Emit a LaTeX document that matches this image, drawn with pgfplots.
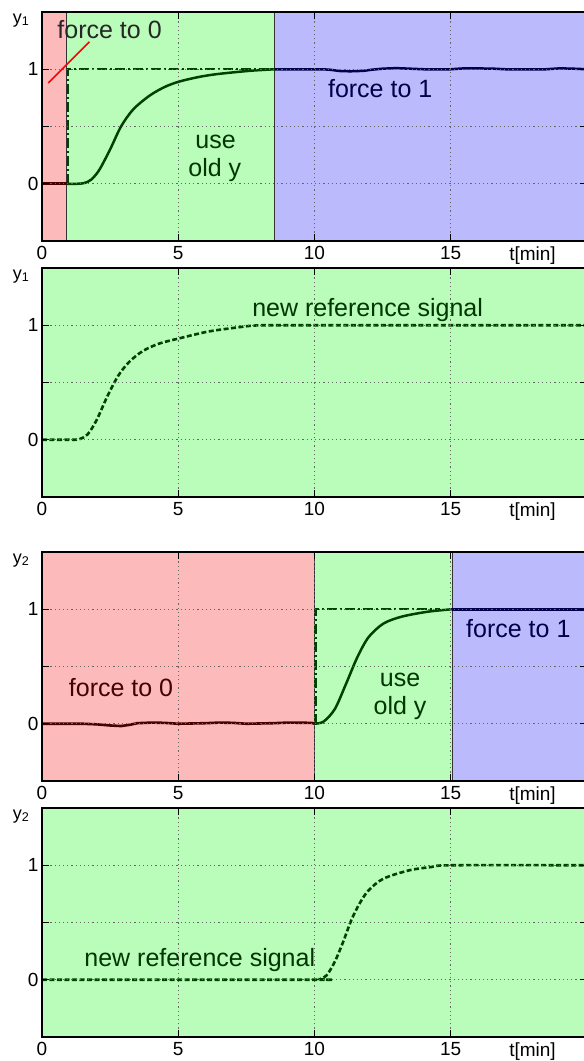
\documentclass[border=0pt]{standalone}
\usepackage{fontspec}
\setmainfont{Liberation Sans}
\usepackage{pgfplots}
\pgfplotsset{compat=1.18}
\definecolor{rfill}{RGB}{252,186,186}
\definecolor{gfill}{RGB}{186,252,186}
\definecolor{bfill}{RGB}{186,186,252}
\definecolor{rline}{RGB}{70,0,0}
\definecolor{gline}{RGB}{0,65,0}
\definecolor{bline}{RGB}{0,0,75}
\definecolor{gtext}{RGB}{0,55,0}
\tikzset{
  ann/.style={font=\fontsize{25}{29}\selectfont, anchor=base},
  ylab/.style={anchor=base east, font=\fontsize{18}{20}\selectfont, xshift=-9pt, yshift=-11pt},
}
\pgfplotsset{
  panel/.style={
    scale only axis, width=545pt, height=229pt,
    xmin=0, xmax=20, ymin=-0.5, ymax=1.5,
    xtick={0,5,10,15}, ytick={0,0.5,1}, yticklabels={0,,1},
    extra x ticks={18}, extra x tick labels={t[min]},
    extra x tick style={major tick length=0pt, grid=none},
    grid=major,
    major grid style={black!60, line width=1pt, dash pattern=on 1.2pt off 3pt},
    tick style={black, line width=1pt}, major tick length=7pt,
    axis line style={black, line width=1.5pt},
    axis on top,
    tick label style={font=\fontsize{19}{21}\selectfont},
    xticklabel style={yshift=-2pt},
    /pgf/number format/assume math mode=true,
    clip mode=individual,
  },
}
\begin{document}
\begin{tikzpicture}
% ---------- panel 1 ----------
\begin{axis}[panel, at={(42pt,-241pt)}, anchor=south west]
\addplot[fill=rfill, draw=none] coordinates {(0,-0.5) (0,1.5) (0.9,1.5) (0.9,-0.5)} -- cycle;
\addplot[fill=gfill, draw=none] coordinates {(0.9,-0.5) (0.9,1.5) (8.55,1.5) (8.55,-0.5)} -- cycle;
\addplot[fill=bfill, draw=none] coordinates {(8.55,-0.5) (8.55,1.5) (20,1.5) (20,-0.5)} -- cycle;
\addplot[black!80, line width=1pt] coordinates {(0.9,-0.5) (0.9,1.5)};
\addplot[black!80, line width=1pt] coordinates {(8.55,-0.5) (8.55,1.5)};
\addplot[gline, line width=2.4pt, dash pattern=on 10pt off 3pt on 2pt off 3pt] coordinates {(0.95,0) (0.95,1) (8.5,1)};
\addplot[rline, line width=2.6pt] coordinates {(0,0) (0.9,0)};
\addplot[gline, line width=2.5pt, smooth] coordinates {(0.9,0) (1.3,0) (1.55,0.006) (1.8,0.035) (2.1,0.12) (2.5,0.30) (2.9,0.50) (3.35,0.65) (3.95,0.77) (4.5,0.845) (5.0,0.89) (5.7,0.93) (6.4,0.957) (7.6,0.986) (8.55,1.0)};
\addplot[bline, line width=2.5pt] coordinates {(8.55,1.0) (9.5,1.0) (10.3,1.0) (10.6,0.995) (10.9,0.985) (11.3,0.982) (11.8,0.986) (12.1,0.996) (12.5,1.005) (13.0,1.01) (13.5,1.005) (14.0,1.0) (15.0,1.0) (15.5,1.008) (16.5,1.006) (17.0,1.0) (18.5,1.0) (19.0,1.008) (19.5,1.005) (20,1.0)};
\addplot[red, line width=1.5pt] coordinates {(0.23,0.88) (1.74,1.24)};
\node[ann, text=black!85] at (axis cs:2.48,1.27) {force to 0};
\node[ann, text=gtext] at (axis cs:6.37,0.31) {use};
\node[ann, text=gtext] at (axis cs:6.34,0.06) {old y};
\node[ann, text=bline] at (axis cs:12.41,0.75) {force to 1};
\node[ylab] at (rel axis cs:0,1) {y\textsubscript{1}};
\end{axis}
% ---------- panel 2 ----------
\begin{axis}[panel, at={(42pt,-497pt)}, anchor=south west]
\addplot[fill=gfill, draw=none] coordinates {(0,-0.5) (0,1.5) (20,1.5) (20,-0.5)} -- cycle;
\addplot[gline, line width=2.6pt, dash pattern=on 5pt off 2.5pt, smooth] coordinates {(0,0) (1.0,0) (1.35,0.004) (1.67,0.046) (2.0,0.17) (2.4,0.38) (2.8,0.56) (3.2,0.68) (3.7,0.775) (4.3,0.84) (5.03,0.885) (6.1,0.945) (7.2,0.982) (7.8,0.997) (9,1.0) (20,1.0)};
\node[ann, text=gtext] at (axis cs:11.95,1.08) {new reference signal};
\node[ylab] at (rel axis cs:0,1) {y\textsubscript{1}};
\end{axis}
% ---------- panel 3 ----------
\begin{axis}[panel, at={(42pt,-781pt)}, anchor=south west]
\addplot[fill=rfill, draw=none] coordinates {(0,-0.5) (0,1.5) (10,1.5) (10,-0.5)} -- cycle;
\addplot[fill=gfill, draw=none] coordinates {(10,-0.5) (10,1.5) (15.05,1.5) (15.05,-0.5)} -- cycle;
\addplot[fill=bfill, draw=none] coordinates {(15.05,-0.5) (15.05,1.5) (20,1.5) (20,-0.5)} -- cycle;
\addplot[black!80, line width=1pt] coordinates {(10,-0.5) (10,1.5)};
\addplot[black!80, line width=1pt] coordinates {(15.05,-0.5) (15.05,1.5)};
\addplot[gline, line width=2.4pt, dash pattern=on 10pt off 3pt on 2pt off 3pt] coordinates {(10.03,0) (10.03,1) (14.6,1)};
\addplot[rline, line width=2.6pt] coordinates {(0,0) (1.5,0) (2.0,-0.005) (2.5,-0.015) (2.9,-0.02) (3.2,-0.01) (3.5,0.005) (4.0,0.01) (4.5,0.008) (5.0,0.0) (6.0,0.005) (6.5,0.01) (7.0,0.008) (7.5,0.0) (8.5,0.005) (9.0,0.01) (9.9,0.008) (10,0)};
\addplot[gline, line width=2.5pt, smooth] coordinates {(10,0) (10.34,0.02) (10.75,0.13) (11.16,0.35) (11.57,0.58) (11.98,0.755) (12.53,0.875) (13.21,0.936) (14.17,0.979) (15.05,1.0)};
\addplot[bline, line width=2.5pt] coordinates {(15.05,1.0) (20,1.0)};
\node[ann, text=rline] at (axis cs:2.90,0.238) {force to 0};
\node[ann, text=gtext] at (axis cs:13.14,0.325) {use};
\node[ann, text=gtext] at (axis cs:13.14,0.078) {old y};
\node[ann, text=bline] at (axis cs:17.48,0.756) {force to 1};
\node[ylab] at (rel axis cs:0,1) {y\textsubscript{2}};
\end{axis}
% ---------- panel 4 ----------
\begin{axis}[panel, at={(42pt,-1037pt)}, anchor=south west]
\addplot[fill=gfill, draw=none] coordinates {(0,-0.5) (0,1.5) (20,1.5) (20,-0.5)} -- cycle;
\addplot[gline, line width=2.6pt, dash pattern=on 5pt off 2.5pt, smooth] coordinates {(0,0) (10.0,0) (10.2,0.005) (10.45,0.04) (10.75,0.16) (11.05,0.33) (11.35,0.52) (11.64,0.66) (11.98,0.78) (12.53,0.883) (13.48,0.956) (14.3,0.985) (15.03,1.0) (20,1.0)};
\node[ann, text=gtext] at (axis cs:5.79,0.117) {new reference signal};
\node[ylab] at (rel axis cs:0,1) {y\textsubscript{2}};
\end{axis}
\pgfresetboundingbox
\path (0pt,0pt) rectangle (584pt,-1061pt);
\end{tikzpicture}
\end{document}
